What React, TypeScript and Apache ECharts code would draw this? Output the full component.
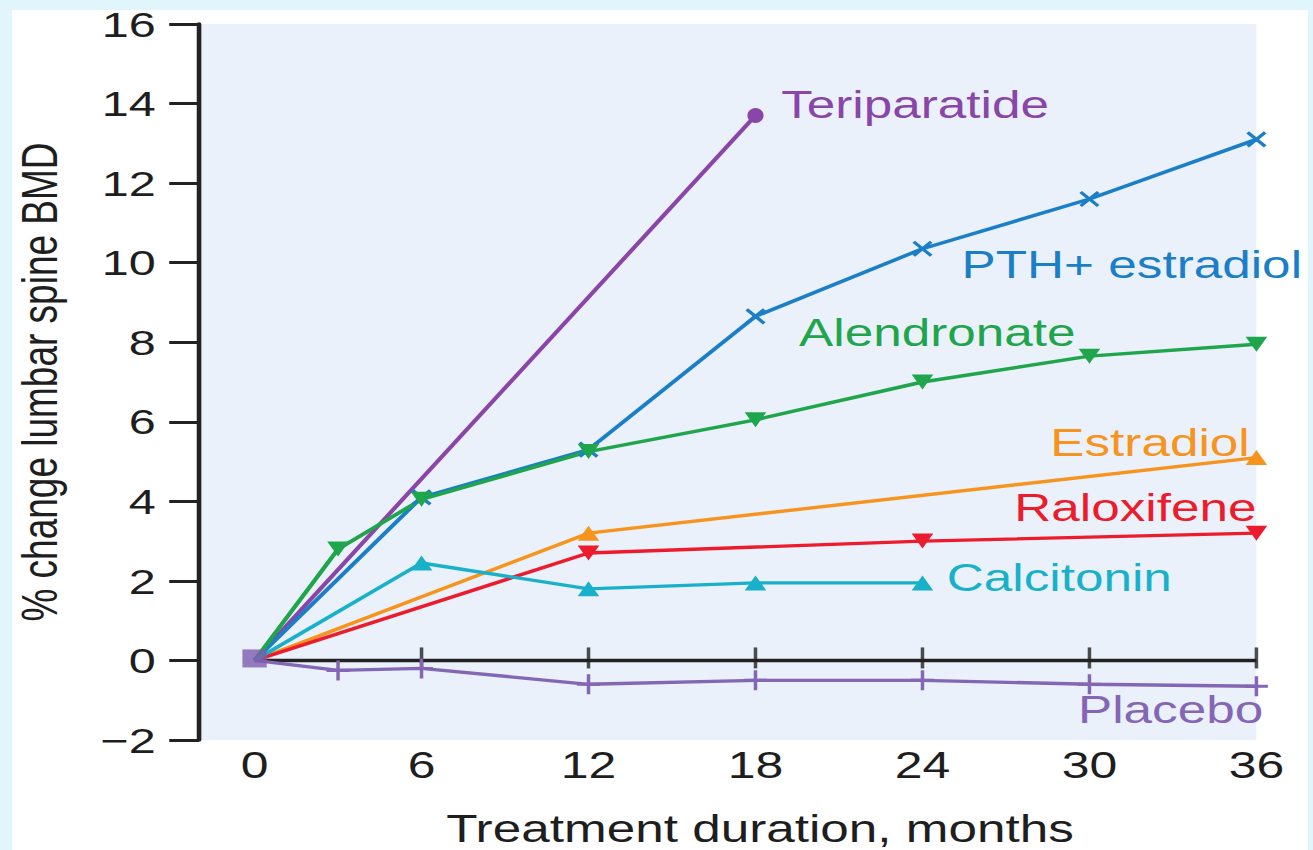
import React, { useEffect, useRef } from "react";
import * as echarts from "echarts";

// ---------- data ----------
const yTickMin = -2;
const yTickMax = 16;
const yTickStep = 2;
const xMin = -2;
const xMax = 36;
const xTickLabels = [0, 6, 12, 18, 24, 30, 36];
const zeroLineX = [0, 36];
const zeroTickX = [6, 12, 18, 24, 30, 36];
const originPoint = [0, 0];

const teriparatideX = [0, 18];
const teriparatideY = [0, 13.7];
const pthX = [0, 6, 12, 18, 24, 30, 36];
const pthY = [0, 4.1, 5.3, 8.65, 10.35, 11.6, 13.1];
const alendronateX = [0, 3, 6, 12, 18, 24, 30, 36];
const alendronateY = [0, 2.8, 4.05, 5.25, 6.05, 7.0, 7.65, 7.95];
const estradiolX = [0, 12, 36];
const estradiolY = [0, 3.2, 5.1];
const raloxifeneX = [0, 12, 24, 36];
const raloxifeneY = [0, 2.7, 3.0, 3.2];
const calcitoninX = [0, 6, 12, 18, 24];
const calcitoninY = [0, 2.45, 1.8, 1.95, 1.95];
const placeboX = [0, 3, 6, 12, 18, 24, 30, 36];
const placeboY = [0, -0.25, -0.2, -0.6, -0.5, -0.5, -0.6, -0.65];

const xAxisTitle = "Treatment duration, months";
const yAxisTitle = "% change lumbar spine BMD";

// ---------- styling ----------
const SCALE_X = 1.3494;
const CHART_W = 973;
const CHART_H = 850;
const FONT = "'Liberation Sans', Arial, Helvetica, sans-serif";
const INK = "#222222";

const C = {
  teriparatide: "#8a45a8",
  pth: "#1b7fc7",
  alendronate: "#1fa54b",
  estradiol: "#f7941e",
  raloxifene: "#ec1c2c",
  calcitonin: "#19b1c9",
  placebo: "#8466b4",
  origin: "#7d5bae",
};

const CROSS = "path://M0,0 L10,10 M10,0 L0,10";
const PLUS = "path://M5,0 L5,10 M0,5 L10,5";

function mkLabel(text: string, color: string, align: string, dx: number, dy: number) {
  return {
    show: true,
    formatter: text,
    position: "inside",
    align,
    verticalAlign: "middle",
    offset: [dx, dy],
    color,
    fontSize: 38,
    fontFamily: FONT,
  };
}

function mkSeries(
  name: string,
  xs: number[],
  ys: number[],
  color: string,
  symbol: string,
  symbolSize: number | number[],
  symbolRotate: number,
  labelIdx: number,
  label: any,
  stroked: boolean
) {
  const data = xs.map((x, i) => {
    const item: any = { value: [x, ys[i]] };
    if (i === 0) item.symbol = "none";
    if (i === labelIdx) item.label = label;
    return item;
  });
  return {
    name,
    type: "line",
    data,
    symbol,
    symbolSize,
    symbolRotate,
    showSymbol: true,
    clip: false,
    z: 3,
    lineStyle: { color, width: 3.4 },
    itemStyle: stroked
      ? { color, borderColor: color, borderWidth: 2.8 }
      : { color, borderWidth: 0 },
    label: { show: false },
    emphasis: { disabled: true },
  };
}

export default function App() {
  const ref = useRef<HTMLDivElement>(null);

  useEffect(() => {
    if (!ref.current) return;
    const chart = echarts.init(ref.current, null, { renderer: "svg" });

    const series: any[] = [
      {
        name: "zero",
        type: "line",
        data: zeroLineX.map((x) => [x, 0]),
        symbol: "none",
        lineStyle: { color: INK, width: 3.5 },
        z: 1,
        silent: true,
      },
      {
        name: "zeroTicks",
        type: "scatter",
        data: zeroTickX.map((x) => [x, 0]),
        symbol: "rect",
        symbolSize: [2.6, 21],
        symbolOffset: [0, -2.5],
        itemStyle: { color: INK },
        z: 1,
        silent: true,
      },
      mkSeries("Teriparatide", teriparatideX, teriparatideY, C.teriparatide, "circle", [12, 15], 0, 1,
        mkLabel("Teriparatide", C.teriparatide, "left", 19, -11), false),
      mkSeries("PTH+ estradiol", pthX, pthY, C.pth, CROSS, [13, 14], 0, 4,
        mkLabel("PTH+ estradiol", C.pth, "left", 29, 16), true),
      mkSeries("Alendronate", alendronateX, alendronateY, C.alendronate, "triangle", [16, 15], 180, 5,
        mkLabel("Alendronate", C.alendronate, "center", 11, -49), false),
      mkSeries("Estradiol", estradiolX, estradiolY, C.estradiol, "triangle", [16, 15], 0, 2,
        mkLabel("Estradiol", C.estradiol, "right", -5, -15), false),
      mkSeries("Raloxifene", raloxifeneX, raloxifeneY, C.raloxifene, "triangle", [16, 15], 180, 3,
        mkLabel("Raloxifene", C.raloxifene, "right", 0, -25), false),
      mkSeries("Calcitonin", calcitoninX, calcitoninY, C.calcitonin, "triangle", [16, 15], 0, 4,
        mkLabel("Calcitonin", C.calcitonin, "left", 18, -5), false),
      mkSeries("Placebo", placeboX, placeboY, C.placebo, PLUS, [17, 20], 0, 7,
        mkLabel("Placebo", C.placebo, "right", 5, 24), true),
      {
        name: "origin",
        type: "scatter",
        data: [originPoint],
        symbol: "rect",
        symbolSize: [18, 18],
        symbolOffset: [0, -2],
        itemStyle: { color: C.origin },
        z: 10,
        silent: true,
      },
    ];

    chart.setOption({
      animation: false,
      backgroundColor: "transparent",
      textStyle: { fontFamily: FONT },
      grid: {
        left: 147.4,
        right: CHART_W - 931.1,
        top: 24,
        bottom: 110,
        show: true,
        backgroundColor: "#eaf1fa",
        borderWidth: 0,
        containLabel: false,
        outerBoundsMode: "none",
      },
      xAxis: {
        type: "value",
        min: xMin,
        max: xMax,
        axisLine: { show: false },
        axisTick: { show: false },
        splitLine: { show: false },
        axisLabel: {
          customValues: xTickLabels,
          fontSize: 37,
          color: "#1e1e1e",
          fontFamily: FONT,
          margin: 6,
        },
        name: xAxisTitle,
        nameLocation: "middle",
        nameGap: 70,
        nameTextStyle: {
          fontSize: 38,
          color: "#1e1e1e",
          fontFamily: FONT,
          padding: [0, 0, 0, 48],
        },
      },
      yAxis: {
        type: "value",
        min: yTickMin,
        max: yTickMax,
        interval: yTickStep,
        axisLine: { show: true, onZero: false, lineStyle: { color: INK, width: 3.4 } },
        axisTick: { show: true, inside: false, length: 22, lineStyle: { color: INK, width: 3 } },
        splitLine: { show: false },
        axisLabel: {
          fontSize: 36,
          color: "#1e1e1e",
          fontFamily: FONT,
          margin: 32,
          formatter: (v: number) => (v < 0 ? "\u2212" + Math.abs(v) : String(v)),
        },
        name: yAxisTitle,
        nameLocation: "middle",
        nameGap: 100,
        nameTextStyle: { fontSize: 37, color: "#1e1e1e", fontFamily: FONT },
      },
      series,
    });

    return () => chart.dispose();
  }, []);

  return (
    <div
      style={{
        position: "absolute",
        left: 0,
        top: 0,
        width: 1313,
        height: 850,
        background: "#e1f5fd",
        overflow: "hidden",
      }}
    >
      <div
        style={{
          position: "absolute",
          left: 12,
          top: 10,
          width: 1296,
          height: 840,
          background: "#ffffff",
        }}
      />
      <div
        ref={ref}
        style={{
          position: "absolute",
          left: 0,
          top: 0,
          width: CHART_W,
          height: CHART_H,
          transform: `scaleX(${SCALE_X})`,
          transformOrigin: "0 0",
        }}
      />
    </div>
  );
}
